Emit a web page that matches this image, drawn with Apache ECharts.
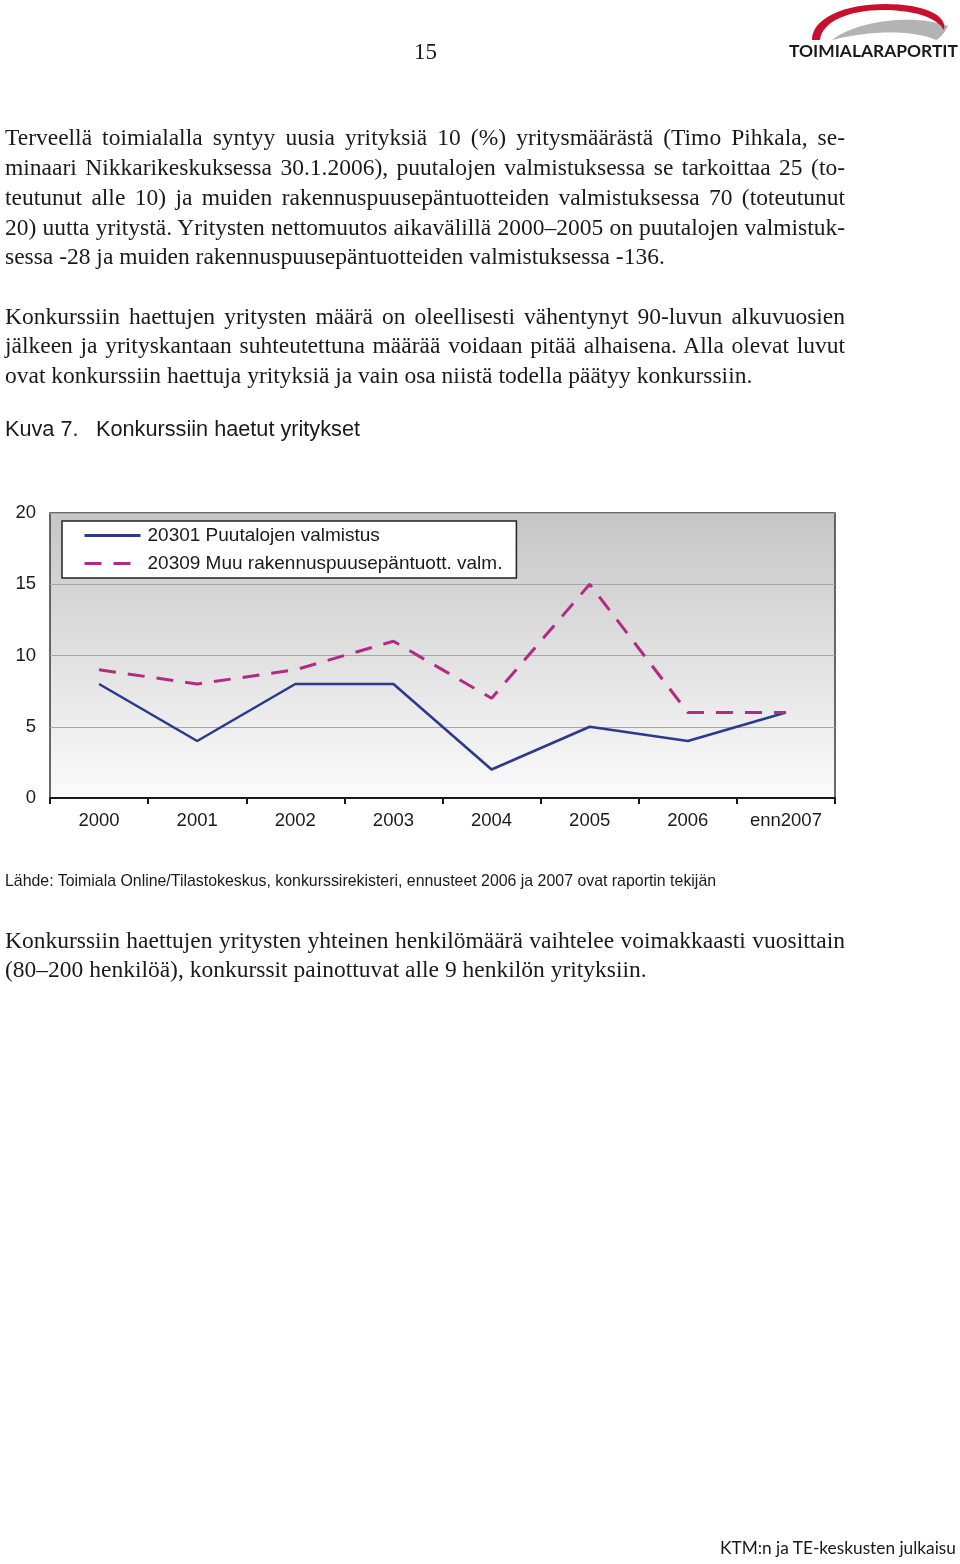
<!DOCTYPE html>
<html>
<head>
<meta charset="utf-8">
<script src="https://cdn.jsdelivr.net/npm/echarts@6/dist/echarts.min.js"></script>
<style>
html,body{margin:0;padding:0;background:#fff;}
body{width:960px;height:1564px;position:relative;overflow:hidden;}
#chart{position:absolute;left:0;top:0;width:960px;height:1564px;}
.t{position:absolute;white-space:nowrap;color:#1a1a1a;}
.serif{font-family:"Liberation Serif","Times New Roman",serif;font-size:23.5px;line-height:30px;left:5px;width:840px;}
.j{text-align:justify;text-align-last:justify;white-space:normal;}
.sans{font-family:"Liberation Sans",Arial,sans-serif;}
</style>
</head>
<body>
<div id="chart"></div>

<div class="t serif" style="left:414px;width:auto;top:37px;font-size:23px;">15</div>
<svg style="position:absolute;left:780px;top:0" width="180" height="50" viewBox="780 0 180 50">
  <path d="M832,40 C858,20 915,14 948,26 C944,34 940,38 936,40 C915,30 870,30 832,40 Z" fill="#b3b3b3"/>
  <path d="M812,40 C812,18 845,4 885,4 C925,4 948,16 944,30 C936,16 910,10 883,10 C848,10 822,22 820,40 Z" fill="#c8102e"/>
</svg>
<div class="t" style="left:789px;top:40px;font-family:Lato,'Open Sans',sans-serif;font-weight:700;font-size:17.4px;letter-spacing:0px;color:#1a1a1a;">TOIMIALARAPORTIT</div>

<div class="t serif j" style="top:122px;">Terveellä toimialalla syntyy uusia yrityksiä 10 (%) yritysmäärästä (Timo Pihkala, se-</div>
<div class="t serif j" style="top:152px;">minaari Nikkarikeskuksessa 30.1.2006), puutalojen valmistuksessa se tarkoittaa 25 (to-</div>
<div class="t serif j" style="top:182px;">teutunut alle 10) ja muiden rakennuspuusepäntuotteiden valmistuksessa 70 (toteutunut</div>
<div class="t serif j" style="top:212px;">20) uutta yritystä. Yritysten nettomuutos aikavälillä 2000–2005 on puutalojen valmistuk-</div>
<div class="t serif" style="top:241px;">sessa -28 ja muiden rakennuspuusepäntuotteiden valmistuksessa -136.</div>

<div class="t serif j" style="top:301px;">Konkurssiin haettujen yritysten määrä on oleellisesti vähentynyt 90-luvun alkuvuosien</div>
<div class="t serif j" style="top:330px;">jälkeen ja yrityskantaan suhteutettuna määrää voidaan pitää alhaisena. Alla olevat luvut</div>
<div class="t serif" style="top:360px;">ovat konkurssiin haettuja yrityksiä ja vain osa niistä todella päätyy konkurssiin.</div>

<div class="t sans" style="left:5px;top:416px;font-size:21.7px;">Kuva 7.</div>
<div class="t sans" style="left:96px;top:416px;font-size:21.7px;">Konkurssiin haetut yritykset</div>

<div class="t sans" style="left:5px;top:872px;font-size:15.9px;">Lähde: Toimiala Online/Tilastokeskus, konkurssirekisteri, ennusteet 2006 ja 2007 ovat raportin tekijän</div>

<div class="t serif j" style="top:925px;">Konkurssiin haettujen yritysten yhteinen henkilömäärä vaihtelee voimakkaasti vuosittain</div>
<div class="t serif" style="top:954px;">(80–200 henkilöä), konkurssit painottuvat alle 9 henkilön yrityksiin.</div>

<div class="t" style="left:720px;top:1537px;font-family:Lato,'Open Sans',sans-serif;font-size:17.3px;color:#1a1a1a;">KTM:n ja TE-keskusten julkaisu</div>

<script>
var categories = ['2000','2001','2002','2003','2004','2005','2006','enn2007'];
var seriesNames = ['20301 Puutalojen valmistus','20309 Muu rakennuspuusepäntuott. valm.'];
var puutalot = [8, 4, 8, 8, 2, 5, 4, 6];
var muut = [9, 8, 9, 11, 7, 15, 6, 6];
var yTicks = {min: 0, max: 20, interval: 5};

var chart = echarts.init(document.getElementById('chart'), null, {renderer: 'canvas'});
chart.setOption({
  animation: false,
  grid: {
    left: 50, top: 513, width: 785, height: 285,
    show: true,
    borderColor: '#3a3a3a', borderWidth: 1.5,
    backgroundColor: {
      type: 'linear', x: 0, y: 0, x2: 0, y2: 1,
      colorStops: [{offset: 0, color: '#c6c6c6'}, {offset: 1, color: '#fbfbfb'}]
    }
  },
  legend: {
    left: 62, top: 521, orient: 'vertical',
    backgroundColor: '#ffffff', borderColor: '#222', borderWidth: 1.5,
    padding: [5, 14, 5, 21], itemGap: 9, itemWidth: 56, itemHeight: 19,
    itemStyle: {color: 'transparent', borderWidth: 0, opacity: 0},
    lineStyle: {width: 3},
    textStyle: {fontFamily: 'Liberation Sans, Arial', fontSize: 19, color: '#1a1a1a', padding: [0,0,0,2]},
    data: seriesNames
  },
  xAxis: {
    type: 'category', data: categories, boundaryGap: true,
    axisLine: {show: true, lineStyle: {color: '#1a1a1a', width: 2}},
    axisTick: {show: true, length: 6, lineStyle: {color: '#1a1a1a', width: 2}},
    axisLabel: {margin: 13, fontFamily: 'Liberation Sans, Arial', fontSize: 18.5, color: '#1a1a1a'},
    splitLine: {show: false}
  },
  yAxis: {
    type: 'value', min: yTicks.min, max: yTicks.max, interval: yTicks.interval,
    axisLine: {show: false}, axisTick: {show: false},
    axisLabel: {margin: 14, fontFamily: 'Liberation Sans, Arial', fontSize: 18.5, color: '#1a1a1a'},
    splitLine: {show: true, lineStyle: {color: '#a6a6a6', width: 1.2}}
  },
  series: [
    {name: seriesNames[0], type: 'line', data: puutalot, symbol: 'none',
     lineStyle: {color: '#2a3a8c', width: 2.6}, itemStyle: {color: '#2a3a8c'}},
    {name: seriesNames[1], type: 'line', data: muut, symbol: 'none',
     lineStyle: {color: '#b32a85', width: 3, type: [17, 12]}, itemStyle: {color: '#b32a85'}}
  ]
});
</script>
</body>
</html>
